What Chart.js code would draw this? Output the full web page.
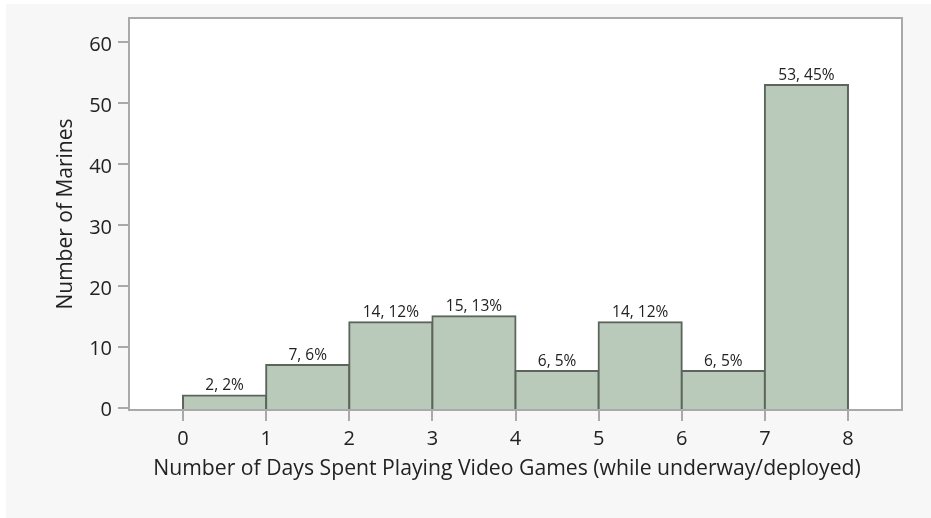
<!DOCTYPE html>
<html><head><meta charset="utf-8">
<script src="https://cdn.jsdelivr.net/npm/chart.js@4"></script>
<style>html,body{margin:0;padding:0;background:#fff;}canvas{display:block;}</style>
</head><body>
<div style="width:931px;height:518px;"><canvas id="c" width="931" height="518"></canvas></div>
<script>
const binStarts = [0, 1, 2, 3, 4, 5, 6, 7];
const counts = [2, 7, 14, 15, 6, 14, 6, 53];
const percents = ["2%", "6%", "12%", "13%", "5%", "12%", "5%", "45%"];
const xTickValues = [0, 1, 2, 3, 4, 5, 6, 7, 8];
const yTickValues = [0, 10, 20, 30, 40, 50, 60];
const xTitle = "Number of Days Spent Playing Video Games (while underway/deployed)";
const yTitle = "Number of Marines";

const FONT = "'Open Sans', 'Noto Sans', sans-serif";
const AXIS_GRAY = '#a9a9a9';

const bgPlugin = {
  id: 'bg',
  beforeDraw(chart) {
    const ctx = chart.ctx;
    ctx.save();
    ctx.fillStyle = '#ffffff';
    ctx.fillRect(0, 0, chart.width, chart.height);
    ctx.fillStyle = '#f7f7f7';
    ctx.fillRect(6, 4, chart.width - 6, chart.height - 4);
    const a = chart.chartArea;
    ctx.fillStyle = '#ffffff';
    ctx.fillRect(a.left, a.top, a.right - a.left, a.bottom - a.top);
    ctx.restore();
  },
  afterDraw(chart) {
    const ctx = chart.ctx, a = chart.chartArea;
    ctx.save();
    ctx.strokeStyle = AXIS_GRAY;
    ctx.lineWidth = 2;
    ctx.strokeRect(a.left, a.top, a.right - a.left, a.bottom - a.top);
    // x-axis title, centred where the original places it
    ctx.font = "21.2px " + FONT;
    ctx.fillStyle = '#222';
    ctx.textAlign = 'center';
    ctx.textBaseline = 'middle';
    ctx.fillText(xTitle, 507, 469);
    ctx.restore();
  }
};

const labelPlugin = {
  id: 'barLabels',
  afterDatasetsDraw(chart) {
    const ctx = chart.ctx;
    const meta = chart.getDatasetMeta(0);
    ctx.save();
    ctx.font = "15.5px " + FONT;
    ctx.fillStyle = '#222';
    ctx.textAlign = 'center';
    ctx.textBaseline = 'bottom';
    meta.data.forEach((bar, i) => {
      ctx.fillText(counts[i] + ", " + percents[i], bar.x, bar.y - 2);
    });
    ctx.restore();
  }
};

new Chart(document.getElementById('c'), {
  type: 'bar',
  data: {
    datasets: [{
      data: binStarts.map((s, i) => ({x: s + 0.5, y: counts[i]})),
      base: -0.4,
      backgroundColor: '#bacaba',
      borderColor: '#5c645c',
      borderWidth: 2,
      borderSkipped: false,
      inflateAmount: 1,
      barPercentage: 1,
      categoryPercentage: 1,
      grouped: false
    }]
  },
  options: {
    responsive: false,
    animation: false,
    devicePixelRatio: 1,
    layout: {padding: {left: 0, right: 29, top: 17, bottom: 0}},
    plugins: {legend: {display: false}, tooltip: {enabled: false}},
    scales: {
      x: {
        type: 'linear',
        min: -0.65, max: 8.65,
        offset: false,
        afterBuildTicks(scale) { scale.ticks = xTickValues.map(v => ({value: v})); },
        afterFit(scale) { scale.height = 108; },
        ticks: {color: '#222', font: {family: FONT, size: 20}, padding: 6, maxRotation: 0, autoSkip: false,
          callback: v => String(v)},
        grid: {offset: false, drawOnChartArea: false, drawTicks: true, tickLength: 11, color: AXIS_GRAY, lineWidth: 2},
        border: {color: AXIS_GRAY, width: 2},
        title: {display: false}
      },
      y: {
        type: 'linear',
        min: -0.4, max: 64.0,
        afterBuildTicks(scale) { scale.ticks = yTickValues.map(v => ({value: v})); },
        afterFit(scale) { scale.width = 129; },
        ticks: {color: '#222', font: {family: FONT, size: 20}, padding: 6, labelOffset: 3, callback: v => String(v)},
        grid: {drawOnChartArea: false, drawTicks: true, tickLength: 11, color: AXIS_GRAY, lineWidth: 2},
        border: {color: AXIS_GRAY, width: 2},
        title: {display: true, text: yTitle, color: '#222', font: {family: FONT, size: 21}, padding: {top: 53, bottom: 0}}
      }
    }
  },
  plugins: [bgPlugin, labelPlugin]
});
</script>
</body></html>
